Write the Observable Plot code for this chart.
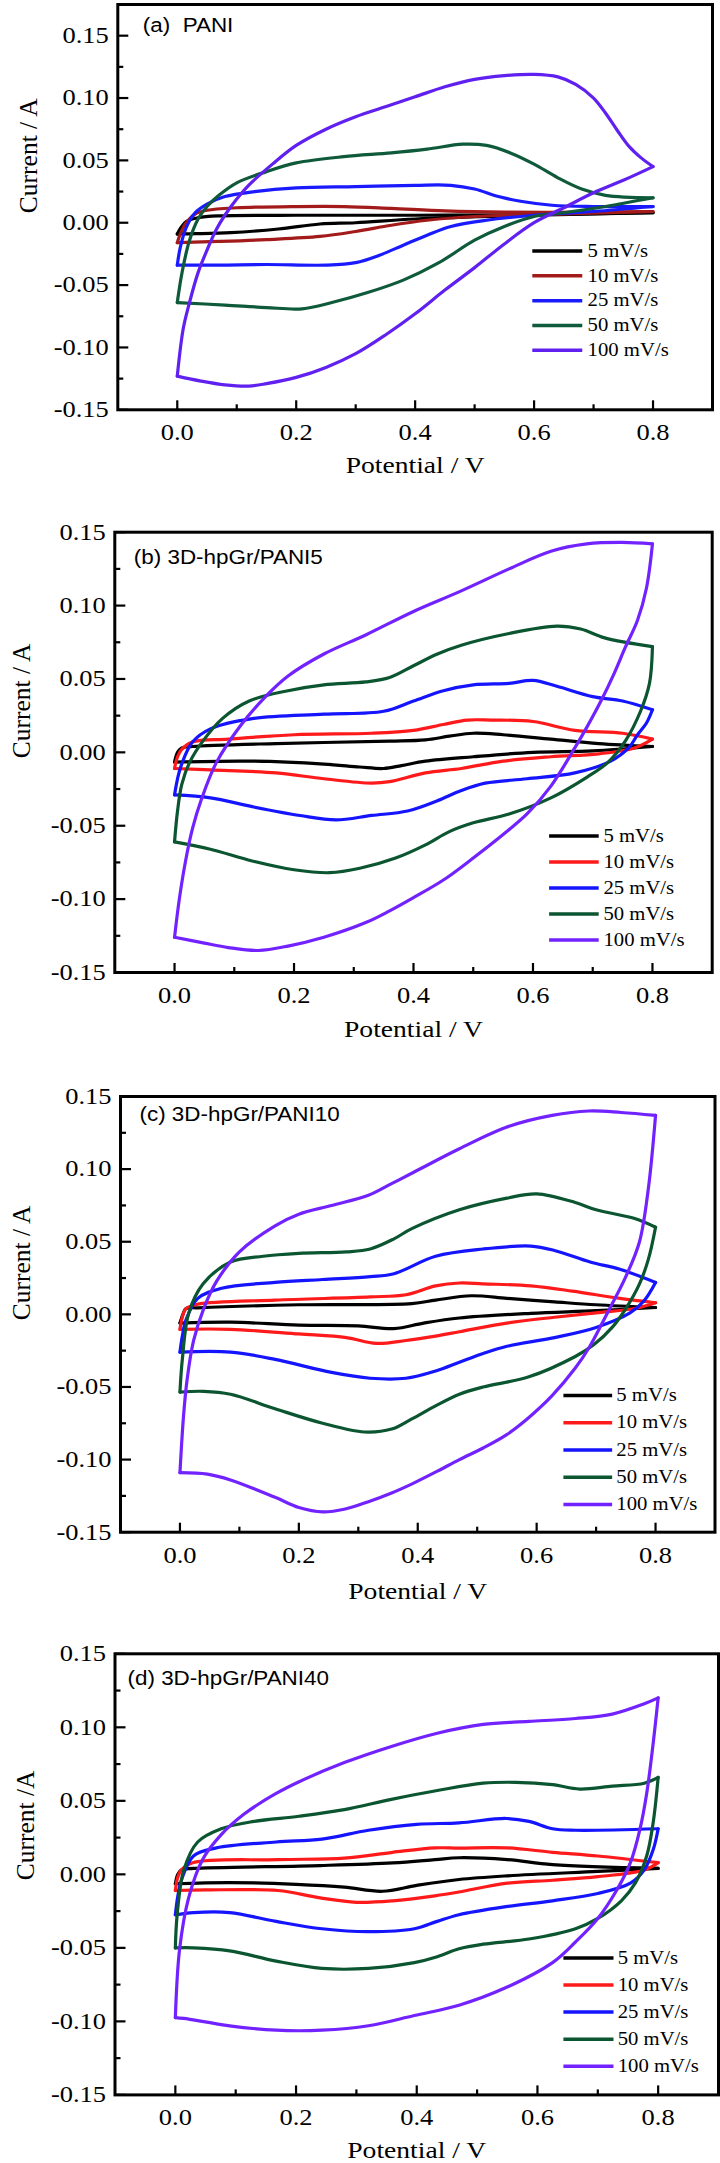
<!DOCTYPE html>
<html><head><meta charset="utf-8">
<script src="https://cdn.jsdelivr.net/npm/d3@7"></script>
<script src="https://cdn.jsdelivr.net/npm/@observablehq/plot@0.6"></script>
<style>
body{margin:0;background:#fff;}
#wrap{position:relative;width:720px;height:2163px;overflow:hidden;background:#fff;}
.panel{position:absolute;left:0;}
</style></head><body><div id="wrap"></div>
<script>
const rates = ["5 mV/s","10 mV/s","25 mV/s","50 mV/s","100 mV/s"];
const colorsA = ["#000000","#a31a1a","#1a1aff","#0f5a3a","#6020f0"];
const colorsB = ["#000000","#fe1a1a","#1414ff","#0b5530","#7222ff"];
const xMajor = [0,0.2,0.4,0.6,0.8];
const xMinor = [0.1,0.3,0.5,0.7];
const yMajor = [-0.15,-0.1,-0.05,0,0.05,0.1,0.15];
const yMinor = [-0.125,-0.075,-0.025,0.025,0.075,0.125];

// (a) PANI
const a5 = [[0,-0.009],[0.006,-0.004],[0.015,0.001],[0.035,0.004],[0.07,0.0055],[0.2,0.006],[0.4,0.006],[0.6,0.0065],[0.8,0.008],
  [0.6,0.006],[0.4,0.003],[0.3,0.0],[0.24,-0.001],[0.17,-0.005],[0.09,-0.008],[0.03,-0.0088],[0,-0.009]];
const a10 = [[0,-0.016],[0.006,-0.008],[0.015,0.0],[0.03,0.007],[0.05,0.01],[0.1,0.012],[0.2,0.013],[0.28,0.013],[0.36,0.0115],[0.45,0.0095],[0.55,0.0085],[0.7,0.0085],[0.8,0.009],
  [0.65,0.007],[0.5,0.005],[0.42,0.002],[0.36,-0.002],[0.3,-0.007],[0.24,-0.011],[0.15,-0.0135],[0.07,-0.015],[0,-0.016]];
const a25 = [[0,-0.034],[0.005,-0.02],[0.015,-0.004],[0.03,0.008],[0.05,0.015],[0.08,0.021],[0.13,0.025],[0.2,0.028],[0.3,0.029],[0.4,0.03],[0.46,0.03],[0.5,0.027],[0.54,0.021],[0.58,0.017],[0.63,0.014],[0.7,0.013],[0.8,0.013],
  [0.7,0.009],[0.6,0.006],[0.52,0.002],[0.46,-0.003],[0.42,-0.01],[0.38,-0.018],[0.34,-0.026],[0.3,-0.032],[0.25,-0.034],[0.15,-0.0335],[0.07,-0.034],[0,-0.034]];
const a50 = [[0,-0.064],[0.008,-0.04],[0.02,-0.015],[0.035,0.003],[0.05,0.013],[0.07,0.022],[0.1,0.032],[0.15,0.041],[0.2,0.048],[0.28,0.053],[0.36,0.056],[0.42,0.059],[0.48,0.063],[0.52,0.062],[0.56,0.056],[0.6,0.047],[0.64,0.036],[0.68,0.027],[0.72,0.022],[0.8,0.02],
  [0.72,0.013],[0.65,0.008],[0.6,0.005],[0.55,-0.003],[0.5,-0.014],[0.44,-0.032],[0.38,-0.046],[0.32,-0.056],[0.26,-0.064],[0.21,-0.069],[0.15,-0.068],[0.08,-0.066],[0,-0.064]];
const a100 = [[0,-0.123],[0.01,-0.085],[0.02,-0.065],[0.035,-0.04],[0.05,-0.022],[0.065,-0.006],[0.08,0.006],[0.1,0.019],[0.12,0.03],[0.16,0.047],[0.2,0.062],[0.25,0.075],[0.3,0.085],[0.35,0.093],[0.4,0.101],[0.45,0.109],[0.5,0.115],[0.55,0.118],[0.6,0.119],[0.64,0.117],[0.67,0.111],[0.7,0.1],[0.72,0.088],[0.74,0.074],[0.76,0.061],[0.78,0.052],[0.8,0.045],
  [0.75,0.034],[0.7,0.024],[0.65,0.012],[0.6,0.0],[0.55,-0.017],[0.5,-0.036],[0.45,-0.054],[0.4,-0.073],[0.35,-0.09],[0.3,-0.105],[0.25,-0.116],[0.2,-0.124],[0.15,-0.129],[0.12,-0.131],[0.08,-0.13],[0.04,-0.127],[0,-0.123]];

// (b) 3D-hpGr/PANI5
const b5 = [[0,-0.0066],[0.005,0.0],[0.012,0.003],[0.03,0.004],[0.17,0.006],[0.36,0.0076],[0.42,0.0085],[0.46,0.011],[0.5,0.013],[0.55,0.012],[0.63,0.009],[0.71,0.006],[0.8,0.004],
  [0.7,0.001],[0.6,0.0],[0.5,-0.003],[0.42,-0.006],[0.38,-0.009],[0.35,-0.011],[0.31,-0.01],[0.25,-0.008],[0.13,-0.006],[0,-0.0066]];
const b10 = [[0,-0.011],[0.005,-0.003],[0.012,0.002],[0.03,0.007],[0.09,0.009],[0.2,0.012],[0.33,0.013],[0.4,0.015],[0.45,0.019],[0.49,0.022],[0.53,0.022],[0.6,0.021],[0.67,0.015],[0.75,0.013],[0.8,0.009],
  [0.77,0.003],[0.71,-0.001],[0.63,-0.003],[0.55,-0.006],[0.48,-0.011],[0.42,-0.014],[0.36,-0.02],[0.33,-0.021],[0.25,-0.018],[0.17,-0.014],[0.06,-0.012],[0,-0.011]];
const b25 = [[0,-0.029],[0.005,-0.018],[0.012,-0.008],[0.03,0.007],[0.06,0.016],[0.13,0.023],[0.25,0.026],[0.35,0.028],[0.4,0.035],[0.45,0.042],[0.5,0.046],[0.56,0.047],[0.6,0.049],[0.64,0.045],[0.7,0.038],[0.75,0.035],[0.8,0.029],
  [0.79,0.02],[0.775,0.012],[0.76,0.003],[0.73,-0.006],[0.67,-0.014],[0.59,-0.018],[0.52,-0.021],[0.48,-0.026],[0.44,-0.033],[0.39,-0.04],[0.33,-0.043],[0.27,-0.046],[0.21,-0.043],[0.13,-0.037],[0.06,-0.031],[0,-0.029]];
const b50 = [[0,-0.061],[0.005,-0.04],[0.012,-0.022],[0.025,-0.007],[0.048,0.008],[0.08,0.023],[0.125,0.035],[0.19,0.042],[0.25,0.046],[0.32,0.048],[0.36,0.051],[0.4,0.059],[0.44,0.067],[0.48,0.073],[0.56,0.081],[0.64,0.086],[0.68,0.084],[0.72,0.078],[0.8,0.072],
  [0.795,0.047],[0.78,0.028],[0.755,0.008],[0.725,-0.007],[0.69,-0.017],[0.63,-0.031],[0.56,-0.042],[0.5,-0.048],[0.46,-0.054],[0.42,-0.063],[0.37,-0.072],[0.31,-0.079],[0.26,-0.082],[0.2,-0.08],[0.13,-0.074],[0.06,-0.066],[0,-0.061]];
const b100 = [[0,-0.126],[0.008,-0.1],[0.018,-0.075],[0.03,-0.052],[0.045,-0.032],[0.07,-0.007],[0.11,0.018],[0.15,0.037],[0.19,0.052],[0.25,0.067],[0.32,0.08],[0.4,0.096],[0.48,0.11],[0.56,0.125],[0.63,0.137],[0.69,0.142],[0.75,0.143],[0.8,0.142],
  [0.79,0.112],[0.775,0.09],[0.755,0.072],[0.735,0.053],[0.715,0.036],[0.69,0.017],[0.67,0.003],[0.63,-0.023],[0.59,-0.042],[0.55,-0.056],[0.5,-0.072],[0.45,-0.087],[0.4,-0.099],[0.36,-0.108],[0.32,-0.116],[0.25,-0.126],[0.19,-0.132],[0.14,-0.135],[0.09,-0.133],[0.05,-0.13],[0,-0.126]];

// (c) 3D-hpGr/PANI10
const c5 = [[0,-0.006],[0.005,0.0],[0.01,0.004],[0.03,0.0045],[0.2,0.0066],[0.39,0.0074],[0.43,0.0098],[0.49,0.0128],[0.55,0.011],[0.63,0.0086],[0.7,0.0066],[0.8,0.0047],
  [0.7,0.0025],[0.59,0.0007],[0.47,-0.0025],[0.41,-0.006],[0.36,-0.0098],[0.3,-0.008],[0.2,-0.0074],[0.085,-0.0054],[0,-0.006]];
const c10 = [[0,-0.0103],[0.004,-0.002],[0.01,0.004],[0.03,0.007],[0.16,0.0098],[0.32,0.012],[0.38,0.0135],[0.43,0.0196],[0.47,0.0216],[0.51,0.021],[0.59,0.0196],[0.66,0.016],[0.74,0.011],[0.8,0.008],
  [0.765,0.004],[0.7,0.001],[0.63,-0.002],[0.55,-0.006],[0.47,-0.012],[0.43,-0.015],[0.38,-0.018],[0.33,-0.02],[0.28,-0.016],[0.2,-0.0135],[0.085,-0.0103],[0,-0.0103]];
const c25 = [[0,-0.026],[0.004,-0.015],[0.01,-0.004],[0.03,0.011],[0.07,0.018],[0.16,0.022],[0.24,0.024],[0.32,0.026],[0.36,0.028],[0.43,0.04],[0.51,0.045],[0.59,0.047],[0.63,0.044],[0.69,0.036],[0.74,0.031],[0.8,0.022],
  [0.78,0.009],[0.757,0.001],[0.7,-0.009],[0.63,-0.016],[0.55,-0.022],[0.51,-0.027],[0.47,-0.033],[0.43,-0.039],[0.38,-0.044],[0.32,-0.044],[0.255,-0.04],[0.16,-0.031],[0.085,-0.026],[0,-0.026]];
const c50 = [[0,-0.0535],[0.004,-0.031],[0.015,0.001],[0.039,0.021],[0.085,0.036],[0.14,0.04],[0.2,0.042],[0.28,0.043],[0.32,0.045],[0.36,0.052],[0.39,0.059],[0.47,0.072],[0.55,0.08],[0.6,0.083],[0.665,0.077],[0.7,0.072],[0.765,0.066],[0.8,0.06],
  [0.788,0.038],[0.773,0.021],[0.75,0.004],[0.727,-0.009],[0.696,-0.021],[0.665,-0.029],[0.587,-0.043],[0.51,-0.05],[0.47,-0.055],[0.43,-0.063],[0.39,-0.072],[0.356,-0.079],[0.31,-0.081],[0.24,-0.075],[0.16,-0.065],[0.085,-0.055],[0.04,-0.053],[0,-0.0535]];
const c100 = [[0,-0.109],[0.006,-0.07],[0.012,-0.045],[0.023,-0.018],[0.04,0.004],[0.062,0.023],[0.1,0.043],[0.16,0.061],[0.2,0.069],[0.255,0.075],[0.317,0.082],[0.356,0.09],[0.394,0.098],[0.47,0.114],[0.55,0.129],[0.626,0.137],[0.688,0.14],[0.742,0.139],[0.8,0.137],
  [0.788,0.087],[0.773,0.05],[0.75,0.026],[0.719,0.001],[0.688,-0.023],[0.665,-0.037],[0.626,-0.056],[0.587,-0.071],[0.549,-0.083],[0.51,-0.092],[0.47,-0.1],[0.433,-0.108],[0.394,-0.116],[0.356,-0.123],[0.317,-0.129],[0.278,-0.134],[0.24,-0.136],[0.2,-0.133],[0.16,-0.126],[0.085,-0.114],[0.046,-0.11],[0,-0.109]];

// (d) 3D-hpGr/PANI40
const d5 = [[0,-0.0064],[0.004,0.0],[0.01,0.003],[0.03,0.004],[0.24,0.006],[0.36,0.0078],[0.43,0.01],[0.47,0.0113],[0.55,0.01],[0.625,0.0066],[0.8,0.004],
  [0.7,0.002],[0.55,-0.001],[0.47,-0.0035],[0.4,-0.0075],[0.343,-0.0115],[0.28,-0.0087],[0.2,-0.0068],[0.09,-0.0056],[0,-0.0064]];
const d10 = [[0,-0.011],[0.004,-0.002],[0.01,0.003],[0.03,0.008],[0.17,0.01],[0.28,0.011],[0.36,0.015],[0.43,0.018],[0.47,0.0179],[0.55,0.018],[0.625,0.015],[0.7,0.0125],[0.8,0.008],
  [0.777,0.003],[0.7,-0.0016],[0.625,-0.004],[0.55,-0.006],[0.47,-0.012],[0.43,-0.0146],[0.36,-0.018],[0.3,-0.019],[0.24,-0.016],[0.17,-0.011],[0.05,-0.0106],[0,-0.011]];
const d25 = [[0,-0.0275],[0.004,-0.015],[0.01,-0.004],[0.03,0.0125],[0.068,0.018],[0.167,0.022],[0.243,0.024],[0.32,0.03],[0.4,0.034],[0.47,0.035],[0.548,0.038],[0.586,0.036],[0.625,0.031],[0.663,0.03],[0.8,0.031],
  [0.792,0.017],[0.777,0.003],[0.754,-0.006],[0.7,-0.013],[0.625,-0.018],[0.548,-0.022],[0.47,-0.0275],[0.434,-0.032],[0.396,-0.037],[0.32,-0.039],[0.243,-0.037],[0.167,-0.032],[0.09,-0.026],[0.03,-0.026],[0,-0.0275]];
const d50 = [[0,-0.05],[0.003,-0.0275],[0.014,0.003],[0.037,0.022],[0.076,0.031],[0.13,0.036],[0.205,0.0395],[0.28,0.044],[0.358,0.051],[0.434,0.057],[0.51,0.062],[0.564,0.0626],[0.625,0.061],[0.67,0.058],[0.724,0.06],[0.777,0.062],[0.8,0.066],
  [0.792,0.036],[0.781,0.0125],[0.762,-0.006],[0.739,-0.018],[0.7,-0.03],[0.663,-0.037],[0.586,-0.044],[0.51,-0.0475],[0.47,-0.0506],[0.434,-0.056],[0.396,-0.06],[0.32,-0.064],[0.243,-0.064],[0.167,-0.059],[0.09,-0.052],[0.03,-0.05],[0,-0.05]];
const d100 = [[0,-0.0974],[0.007,-0.051],[0.022,-0.016],[0.045,0.01],[0.076,0.027],[0.114,0.041],[0.167,0.055],[0.205,0.063],[0.28,0.076],[0.358,0.087],[0.434,0.096],[0.51,0.102],[0.586,0.104],[0.663,0.106],[0.724,0.109],[0.777,0.116],[0.8,0.12],
  [0.792,0.09],[0.781,0.055],[0.77,0.031],[0.754,0.008],[0.731,-0.011],[0.7,-0.03],[0.663,-0.046],[0.625,-0.06],[0.548,-0.077],[0.47,-0.089],[0.396,-0.096],[0.32,-0.103],[0.243,-0.106],[0.167,-0.106],[0.09,-0.103],[0.014,-0.098],[0,-0.0974]];

const panels = [
  {label: "(a)  PANI", series: [a5,a10,a25,a50,a100], colors: colorsA, yDomain: [-0.15, 0.175], yLabel: "Current / A",
   top: 0, height: 480, margins: [117.3, 8, 4, 70.7], labelPos: [25, 21], xTitleDy: 56, yTitleDx: 89,
   legend: {x1: 0.597, x2: 0.681, xt: 0.69, y0: -0.0227, dy: 0.0199}},
  {label: "(b) 3D-hpGr/PANI5", series: [b5,b10,b25,b50,b100], colors: colorsB, yDomain: [-0.15, 0.15], yLabel: "Current / A",
   top: 500, height: 560, margins: [114.3, 8.3, 31.7, 88], labelPos: [19, 26], xTitleDy: 57, yTitleDx: 93,
   legend: {x1: 0.627, x2: 0.71, xt: 0.718, y0: -0.057, dy: 0.0177}},
  {label: "(c) 3D-hpGr/PANI10", series: [c5,c10,c25,c50,c100], colors: colorsB, yDomain: [-0.15, 0.15], yLabel: "Current / A",
   top: 1060, height: 560, margins: [120, 5.5, 36, 88.3], labelPos: [19, 18], xTitleDy: 59, yTitleDx: 99,
   legend: {x1: 0.645, x2: 0.727, xt: 0.734, y0: -0.0558, dy: 0.0188}},
  {label: "(d) 3D-hpGr/PANI40", series: [d5,d10,d25,d50,d100], colors: colorsB, yDomain: [-0.15, 0.15], yLabel: "Current /A",
   top: 1620, height: 543, margins: [114.5, 2, 33.3, 68.6], labelPos: [12.5, 25], xTitleDy: 55.6, yTitleDx: 89.5,
   legend: {x1: 0.643, x2: 0.726, xt: 0.733, y0: -0.0569, dy: 0.0184}}
];

const wrap = document.getElementById("wrap");
const serif = "'Liberation Serif','Times New Roman',Times,serif";
const sans = "'Liberation Sans',Arial,Helvetica,sans-serif";

// split each cyclic voltammogram into its anodic (forward) and cathodic (return) sweep
function sweeps(series) {
  return series.flatMap((s, i) => {
    const xmax = d3.max(s, p => p[0]);
    const k = s.findIndex(p => p[0] === xmax);
    const fwd = s.slice(0, k + 1).map(([x, y]) => ({x, y, s: rates[i], z: rates[i] + " fwd"}));
    const rev = s.slice(k).map(([x, y]) => ({x, y, s: rates[i], z: rates[i] + " rev"}));
    return fwd.concat(rev);
  });
}

for (const cfg of panels) {
  const [ml, mr, mt, mb] = cfg.margins;
  const W = 720, H = cfg.height;
  const iw = W - ml - mr, ih = H - mt - mb;
  const pts = sweeps(cfg.series);
  const leg = rates.map((r, i) => ({r, y: cfg.legend.y0 - i * cfg.legend.dy}));
  const svg = Plot.plot({
    width: W, height: H,
    marginLeft: ml, marginRight: mr, marginTop: mt, marginBottom: mb,
    x: {domain: [-0.1, 0.9]},
    y: {domain: cfg.yDomain},
    color: {domain: rates, range: cfg.colors},
    style: {fontFamily: serif, background: "transparent", overflow: "visible", color: "black"},
    marks: [
      Plot.line(pts, {x: "x", y: "y", z: "z", stroke: "s", strokeWidth: 3.2, curve: "catmull-rom", strokeLinejoin: "round", strokeLinecap: "round"}),
      Plot.tickY(yMajor, {y: d => d, insetRight: iw - 11, stroke: "black", strokeWidth: 2.2}),
      Plot.tickY(yMinor, {y: d => d, insetRight: iw - 6, stroke: "black", strokeWidth: 2.2}),
      Plot.tickX(xMajor, {x: d => d, insetTop: ih - 9, stroke: "black", strokeWidth: 2.2}),
      Plot.tickX(xMinor, {x: d => d, insetTop: ih - 5, stroke: "black", strokeWidth: 2.2}),
      Plot.frame({stroke: "black", strokeWidth: 3}),
      Plot.axisY({ticks: yMajor, tickSize: 0, tickPadding: 9, tickFormat: d => d.toFixed(2), fontSize: 23, label: null}),
      Plot.axisX({ticks: xMajor, tickSize: 0, tickPadding: 14, tickFormat: d => d.toFixed(1), fontSize: 23, label: null}),
      Plot.text(["Potential / V"], {frameAnchor: "bottom", dy: cfg.xTitleDy, fontSize: 24, lineAnchor: "middle", text: d => d}),
      Plot.text([cfg.yLabel], {frameAnchor: "left", rotate: -90, dx: -cfg.yTitleDx, dy: 6, fontSize: 25.5, lineAnchor: "middle", text: d => d}),
      Plot.text([cfg.label], {frameAnchor: "top-left", dx: cfg.labelPos[0], dy: cfg.labelPos[1], fontFamily: sans, fontSize: 19.5, textAnchor: "start", lineAnchor: "middle", text: d => d}),
      Plot.link(leg, {x1: cfg.legend.x1, x2: cfg.legend.x2, y1: "y", y2: "y", stroke: "r", strokeWidth: 3.5}),
      Plot.text(leg, {x: cfg.legend.xt, y: "y", text: "r", textAnchor: "start", lineAnchor: "middle", fontSize: 18})
    ]
  });
  const div = document.createElement("div");
  div.className = "panel";
  div.style.top = cfg.top + "px";
  div.appendChild(svg);
  wrap.appendChild(div);
}

// the source figure is horizontally stretched: widen upright text a little
document.querySelectorAll("#wrap svg text").forEach(t => {
  if ((t.getAttribute("transform") || "").includes("rotate")) return;
  const w = t.getComputedTextLength();
  if (w > 0) {
    t.setAttribute("textLength", (w * 1.15).toFixed(1));
    t.setAttribute("lengthAdjust", "spacingAndGlyphs");
  }
});
</script>
</body></html>
